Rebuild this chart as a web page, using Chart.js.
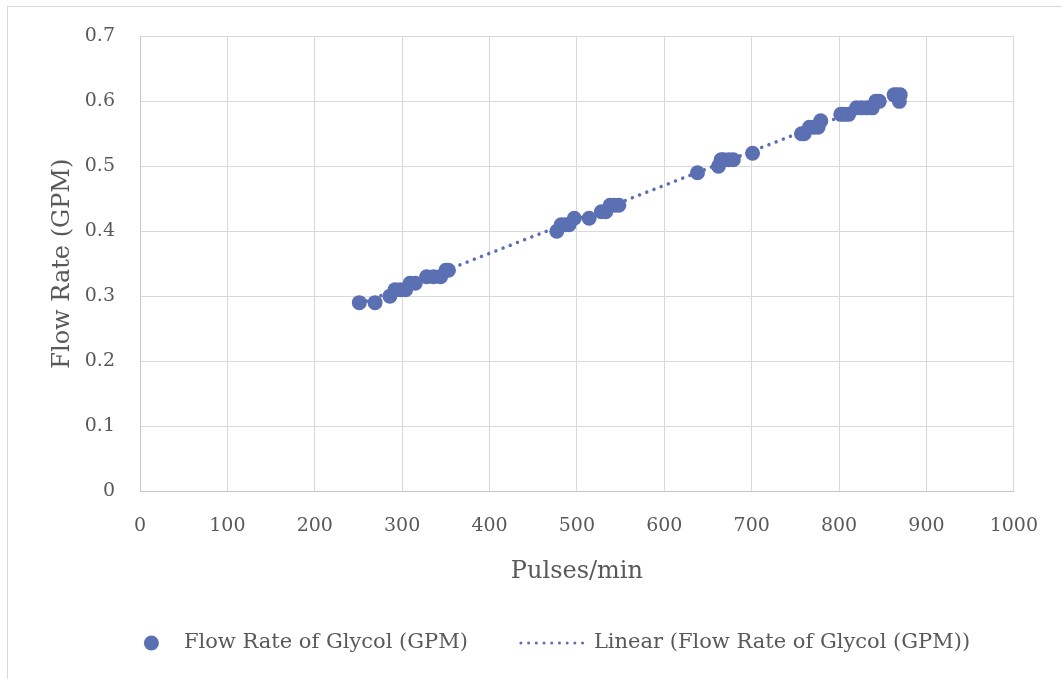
<!DOCTYPE html>
<html><head><meta charset="utf-8">
<script src="https://cdn.jsdelivr.net/npm/chart.js@4.4.1/dist/chart.umd.min.js"></script>
<style>
html,body{margin:0;padding:0;background:#fff;width:1062px;height:679px;overflow:hidden;}
#frame{position:absolute;left:7px;top:6px;width:1120px;height:740px;border:1px solid #d9d9d9;box-sizing:border-box;}
#c{position:absolute;left:0;top:0;}
</style></head><body>
<div id="frame"></div>
<canvas id="c" width="1062" height="679"></canvas>
<script>
// Data
const pulsesPerMin = [251, 269, 286, 292, 298, 304, 309, 315, 328, 336, 344, 350, 353,
  477, 482, 487, 491, 497, 514, 528, 533, 538, 543, 548,
  638, 662, 665, 668, 674, 679, 701,
  757, 760, 766, 771, 776, 779, 802, 806, 811, 820, 826, 832, 838, 842, 846, 863, 866, 870, 869];
const flowRateGPM = [0.29, 0.29, 0.30, 0.31, 0.31, 0.31, 0.32, 0.32, 0.33, 0.33, 0.33, 0.34, 0.34,
  0.40, 0.41, 0.41, 0.41, 0.42, 0.42, 0.43, 0.43, 0.44, 0.44, 0.44,
  0.49, 0.50, 0.51, 0.51, 0.51, 0.51, 0.52,
  0.55, 0.55, 0.56, 0.56, 0.56, 0.57, 0.58, 0.58, 0.58, 0.59, 0.59, 0.59, 0.59, 0.60, 0.60, 0.61, 0.61, 0.61, 0.60];
const trendPulses = [251, 870];
const trendFlow = [0.288, 0.612];
const seriesName = 'Flow Rate of Glycol (GPM)';
const trendName = 'Linear (Flow Rate of Glycol (GPM))';
const xAxisTitle = 'Pulses/min';
const yAxisTitle = 'Flow Rate (GPM)';

const COLOR = '#5b6fb3';
const TEXT = '#595959';
const FONT = 'DejaVu Serif';

const excelLegend = {
  id: 'excelLegend',
  afterDraw(chart) {
    const ctx = chart.ctx;
    const ds = chart.data.datasets;
    ctx.save();
    ctx.font = '21px "' + FONT + '"';
    ctx.textBaseline = 'middle';
    const y = 643;
    const w1 = ctx.measureText(ds[0].label).width;
    const w2 = ctx.measureText(ds[1].label).width;
    const total = 15 + 25 + w1 + 51 + 70 + 5 + w2;
    let x = 557 - total / 2;
    ctx.fillStyle = COLOR;
    ctx.beginPath(); ctx.arc(x + 7.5, y, 7.5, 0, Math.PI * 2); ctx.fill();
    x += 40;
    ctx.fillStyle = TEXT;
    ctx.fillText(ds[0].label, x, y);
    x += w1 + 51;
    ctx.strokeStyle = COLOR; ctx.lineWidth = 3; ctx.lineCap = 'round';
    ctx.setLineDash([0.01, 7.7]);
    ctx.beginPath(); ctx.moveTo(x + 2, y); ctx.lineTo(x + 70, y); ctx.stroke();
    ctx.setLineDash([]);
    x += 75;
    ctx.fillText(ds[1].label, x, y);
    ctx.restore();
  }
};

new Chart(document.getElementById('c'), {
  type: 'scatter',
  data: {
    datasets: [
      {
        label: seriesName,
        data: pulsesPerMin.map((x, i) => ({x: x, y: flowRateGPM[i]})),
        backgroundColor: COLOR,
        borderColor: COLOR,
        pointRadius: 7.5,
        borderWidth: 0,
        order: 2
      },
      {
        label: trendName,
        type: 'line',
        data: trendPulses.map((x, i) => ({x: x, y: trendFlow[i]})),
        borderColor: COLOR,
        borderWidth: 3.5,
        borderCapStyle: 'round',
        borderDash: [0.01, 7.7],
        pointRadius: 0,
        fill: false,
        order: 1
      }
    ]
  },
  options: {
    responsive: false,
    animation: false,
    layout: {padding: {left: 8, right: 40, top: 35, bottom: 79}},
    plugins: {legend: {display: false}, tooltip: {enabled: false}},
    scales: {
      x: {
        type: 'linear', min: 0, max: 1000,
        ticks: {stepSize: 100, color: TEXT, font: {family: FONT, size: 19}, padding: 24, maxRotation: 0,
          callback: v => String(v)},
        grid: {color: '#d9d9d9', drawTicks: false, lineWidth: 1},
        border: {color: '#c6c6c6', width: 1},
        title: {display: true, text: xAxisTitle, color: TEXT, font: {family: FONT, size: 24}, padding: {top: 0, bottom: 14}},
        afterFit(s) { s.height = 109; }
      },
      y: {
        type: 'linear', min: 0, max: 0.7,
        ticks: {stepSize: 0.1, color: TEXT, font: {family: FONT, size: 19}, padding: 25},
        grid: {color: '#d9d9d9', drawTicks: false, lineWidth: 1},
        border: {color: '#c6c6c6', width: 1},
        title: {display: true, text: yAxisTitle, color: TEXT, font: {family: FONT, size: 24}, padding: {top: 40, bottom: 0}},
        afterFit(s) { s.width = 132; }
      }
    }
  },
  plugins: [excelLegend]
});
</script>
</body></html>
